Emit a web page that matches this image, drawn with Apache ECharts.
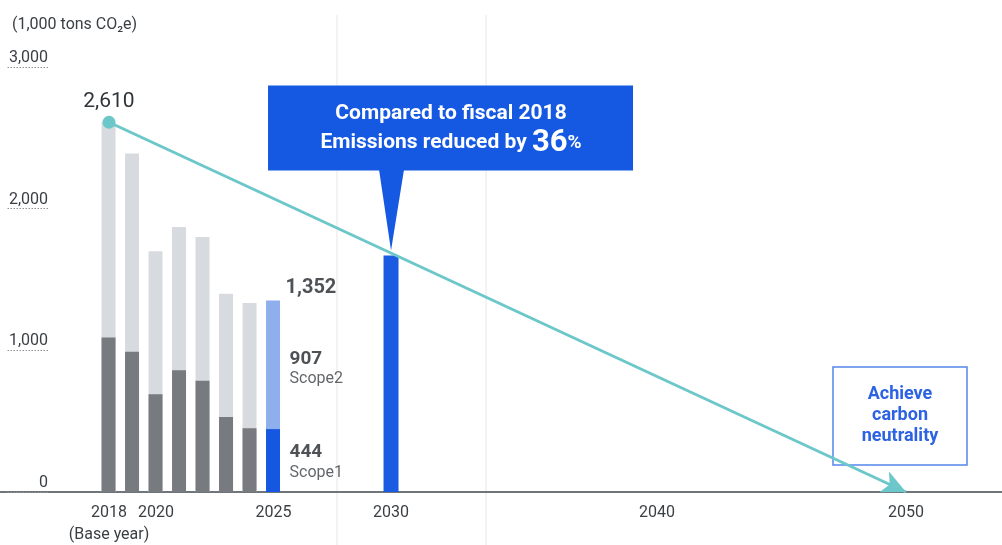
<!DOCTYPE html>
<html>
<head>
<meta charset="utf-8">
<title>GHG emissions (Scope1+2)</title>
<script src="https://cdn.jsdelivr.net/npm/echarts@6/dist/echarts.min.js"></script>
<style>
  html, body { margin: 0; padding: 0; background: #ffffff; }
  #chart { width: 1002px; height: 545px; }
</style>
</head>
<body>
<div id="chart"></div>
<script>
// Fiscal years with actual results
const years = [2018, 2019, 2020, 2021, 2022, 2023, 2024, 2025];
// Scope1 emissions (1,000 t-CO2e)
const scope1 = [1090, 990, 690, 860, 785, 530, 450, 444];
// Scope2 emissions (1,000 t-CO2e)
const scope2 = [1520, 1400, 1010, 1010, 1015, 870, 885, 907];
// Reported total for the latest year
const latestTotal = 1352;
// 2030 target (36% below fiscal 2018)
const targetYear = 2030;
const targetValue = 1670;
// Path to carbon neutrality: base year -> 2050
const pathway = [[2018, 2610], [2050, 0]];
// Axis tick labels
const nearTicks = [2018, 2020, 2025, 2030];
const farTicks = [2040, 2050];
const baseYear = 2018;
const valueTicks = [0, 1000, 2000, 3000];

const FONT = 'Roboto, "Noto Sans", sans-serif';
const TEXT = '#3a3f44';
const DARK = '#22272b';
const TEAL = '#6cc7ca';
const BLUE = '#1557e0';
const last = years.length - 1;

const fmt = v => v.toLocaleString('en-US');

// Scope1 sits at the base; the Scope2 share is drawn as the full column behind it
const totals = years.map((y, i) => scope1[i] + scope2[i]);

const valueRich = {
  v: { fontFamily: FONT, fontSize: 19, fontWeight: 'bold', color: DARK, lineHeight: 21 },
  s: { fontFamily: FONT, fontSize: 16, fontWeight: 'normal', color: '#3a3f44', lineHeight: 20 }
};

// Near-term year scale (bars) and long-term year scale (pathway)
const NEAR = { min: 2013.36, max: 2056 };
const FAR = { min: 2013.624, max: 2053.855 };

const hiddenAxisParts = {
  axisTick: { show: false },
  splitLine: { show: false }
};

const chart = echarts.init(document.getElementById('chart'), null, { renderer: 'canvas' });

chart.setOption({
  animation: false,
  backgroundColor: '#ffffff',
  textStyle: { fontFamily: FONT },
  title: {
    text: '(1,000 tons CO\u2082e)',
    left: 7, top: 12,
    textStyle: { fontFamily: FONT, fontSize: 16, fontWeight: 'normal', color: TEXT }
  },
  grid: { left: 0, right: 0, top: 67, bottom: 53, containLabel: false, outerBoundsMode: 'none' },
  xAxis: [
    Object.assign({
      type: 'value', position: 'bottom',
      min: NEAR.min, max: NEAR.max,
      axisLine: { show: true, lineStyle: { color: '#41474c', width: 1.5 } },
      axisLabel: {
        customValues: nearTicks,
        interval: 0, hideOverlap: false,
        formatter: v => String(v),
        fontFamily: FONT, fontSize: 16, color: TEXT, margin: 13
      }
    }, hiddenAxisParts),
    Object.assign({
      type: 'value', position: 'bottom',
      min: FAR.min, max: FAR.max,
      axisLine: { show: false },
      axisLabel: {
        customValues: farTicks,
        interval: 0, hideOverlap: false,
        formatter: v => String(v),
        fontFamily: FONT, fontSize: 16, color: TEXT, margin: 13
      }
    }, hiddenAxisParts),
    Object.assign({
      // second line under the base year
      type: 'value', position: 'bottom',
      min: NEAR.min, max: NEAR.max,
      axisLine: { show: false },
      axisLabel: {
        customValues: [baseYear],
        formatter: () => '(Base year)',
        fontFamily: FONT, fontSize: 16, color: TEXT, margin: 35
      }
    }, hiddenAxisParts)
  ],
  yAxis: {
    type: 'value',
    min: valueTicks[0], max: valueTicks[valueTicks.length - 1], interval: 1000,
    offset: -48,
    axisLine: { show: false },
    splitLine: { show: false },
    axisTick: { show: true, inside: false, length: 41, lineStyle: { color: '#8e9297', width: 1, type: [1.5, 1.5] } },
    axisLabel: {
      formatter: v => fmt(v),
      fontFamily: FONT, fontSize: 16, color: TEXT, margin: 0,
      verticalAlign: 'bottom', padding: [0, 0, 1, 0]
    }
  },
  series: [
    {
      name: 'Scope2', type: 'bar', xAxisIndex: 0,
      barWidth: 14, barGap: '-100%',
      data: years.map((y, i) => ({
        value: [y, totals[i]],
        itemStyle: { color: i === last ? '#8eaeec' : '#d7dbdf' }
      }))
    },
    {
      name: 'Scope1', type: 'bar', xAxisIndex: 0,
      barWidth: 14, barGap: '-100%',
      data: years.map((y, i) => ({
        value: [y, scope1[i]],
        itemStyle: { color: i === last ? BLUE : '#777b80' }
      }))
    },
    {
      name: 'Target', type: 'bar', xAxisIndex: 0,
      barWidth: 15, barGap: '-100%',
      itemStyle: { color: '#1a5be2' },
      data: [[targetYear, targetValue]]
    },
    {
      // value labels for the latest year, placed beside each segment
      name: 'Latest labels', type: 'scatter', xAxisIndex: 0,
      symbolSize: 0, silent: true, z: 6,
      data: [
        {
          value: [years[last], latestTotal],
          label: {
            show: true, position: 'right', distance: 12, offset: [0, -12],
            formatter: p => fmt(p.value[1]),
            fontFamily: FONT, fontSize: 20, fontWeight: 'bold', color: DARK
          }
        },
        {
          value: [years[last], scope1[last] + scope2[last] / 2],
          label: {
            show: true, position: 'right', distance: 16, offset: [0, 4], color: DARK,
            formatter: () => '{v|' + fmt(scope2[last]) + '}\n{s|Scope2}',
            rich: valueRich
          }
        },
        {
          value: [years[last], scope1[last] / 2],
          label: {
            show: true, position: 'right', distance: 16, offset: [0, 2], color: DARK,
            formatter: () => '{v|' + fmt(scope1[last]) + '}\n{s|Scope1}',
            rich: valueRich
          }
        }
      ]
    },
    {
      name: 'Pathway', type: 'line', xAxisIndex: 1,
      lineStyle: { opacity: 0 },
      z: 5,
      data: [
        {
          value: pathway[0], symbol: 'circle', symbolSize: 13,
          itemStyle: { color: TEAL },
          label: {
            show: true, position: 'top', distance: 4,
            formatter: p => fmt(p.value[1]),
            fontFamily: FONT, fontSize: 21, color: '#30353a'
          }
        },
        { value: pathway[1], symbol: 'none' }
      ],
      markLine: {
        silent: true,
        symbol: ['none', 'arrow'],
        symbolSize: [17, 24],
        lineStyle: { color: TEAL, width: 3, type: 'solid' },
        label: { show: false },
        data: [[{ coord: pathway[0] }, { coord: pathway[1] }]]
      }
    }
  ]
});

// Annotations anchored to the 2030 target bar and the 2050 end of the pathway
const [ax, ay] = chart.convertToPixel({ xAxisIndex: 0, yAxisIndex: 0 }, [targetYear, targetValue]);
const [ex, ey] = chart.convertToPixel({ xAxisIndex: 1, yAxisIndex: 0 }, pathway[1]);

chart.setOption({
  graphic: [
    { type: 'line', z: -10, shape: { x1: 337, y1: 15, x2: 337, y2: 545 }, style: { stroke: '#f3f3f3', lineWidth: 2 } },
    { type: 'line', z: -10, shape: { x1: 486, y1: 15, x2: 486, y2: 545 }, style: { stroke: '#f3f3f3', lineWidth: 2 } },
    {
      type: 'group', z: 100,
      children: [
        { type: 'rect', shape: { x: ax - 123, y: ay - 170, width: 365, height: 85 }, style: { fill: '#1558e2' } },
        { type: 'polygon', shape: { points: [[ax - 12, ay - 86], [ax + 13, ay - 86], [ax, ay - 5]] }, style: { fill: '#1558e2' } },
        {
          type: 'text',
          style: {
            x: ax + 60, y: ay - 127,
            align: 'center', verticalAlign: 'middle',
            text: '{a|Compared to fiscal 2018}\n{a|Emissions reduced by }{b|36}{c|%}',
            rich: {
              a: { fontFamily: FONT, fontSize: 21, fontWeight: 'bold', fill: '#ffffff', lineHeight: 29 },
              b: { fontFamily: FONT, fontSize: 31, fontWeight: 'bold', fill: '#ffffff', lineHeight: 29 },
              c: { fontFamily: FONT, fontSize: 19, fontWeight: 'bold', fill: '#ffffff', lineHeight: 29 }
            }
          }
        }
      ]
    },
    {
      type: 'group', z: 100,
      children: [
        { type: 'rect', shape: { x: ex - 73, y: ey - 125, width: 134, height: 98 }, style: { fill: '#ffffff', stroke: '#5686ea', lineWidth: 1.5 } },
        {
          type: 'text',
          style: {
            x: ex - 6, y: ey - 77,
            align: 'center', verticalAlign: 'middle',
            text: 'Achieve\ncarbon\nneutrality',
            fontFamily: FONT, fontSize: 18, fontWeight: 'bold', fill: '#2c62e4', lineHeight: 21
          }
        }
      ]
    }
  ]
});
</script>
</body>
</html>
